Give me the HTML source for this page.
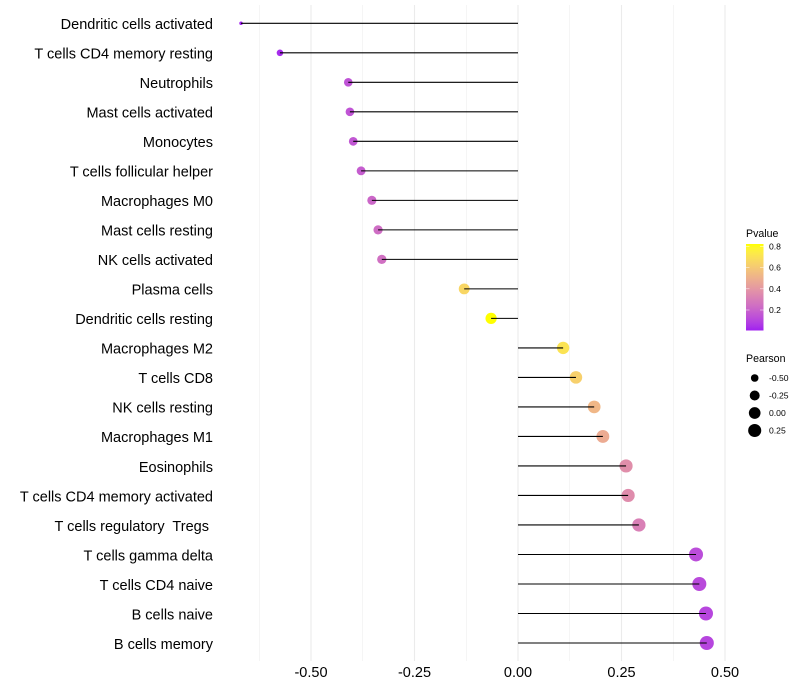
<!DOCTYPE html>
<html>
<head>
<meta charset="utf-8">
<title>Immune cell correlation lollipop chart</title>
<style>
html,body{margin:0;padding:0;background:#fff;width:800px;height:700px;overflow:hidden}
svg{display:block;font-family:"Liberation Sans",sans-serif}
text{white-space:pre}
</style>
</head>
<body>
<svg id="chart" width="800" height="700" viewBox="0 0 800 700" xmlns="http://www.w3.org/2000/svg">
  <defs>
    <linearGradient id="pvalue-gradient" x1="0" y1="1" x2="0" y2="0"></linearGradient>
  </defs>
  <g id="grid"></g>
  <g id="segments"></g>
  <g id="ylabels"></g>
  <g id="xlabels"></g>
  <g id="pvalue-legend">
    <text x="746" y="237" font-size="10.6" fill="#000">Pvalue</text>
    <rect x="746" y="244" width="17.5" height="86.5" fill="url(#pvalue-gradient)"></rect>
  </g>
  <g id="pearson-legend">
    <text x="746" y="362" font-size="10.6" fill="#000">Pearson</text>
  </g>
</svg>
<script>
var categories = ["Dendritic cells activated","T cells CD4 memory resting","Neutrophils","Mast cells activated","Monocytes","T cells follicular helper","Macrophages M0","Mast cells resting","NK cells activated","Plasma cells","Dendritic cells resting","Macrophages M2","T cells CD8","NK cells resting","Macrophages M1","Eosinophils","T cells CD4 memory activated","T cells regulatory  Tregs ","T cells gamma delta","T cells CD4 naive","B cells naive","B cells memory"];
var pearson = [-0.669,-0.575,-0.41,-0.406,-0.398,-0.379,-0.353,-0.338,-0.329,-0.13,-0.065,0.109,0.14,0.184,0.205,0.261,0.266,0.292,0.43,0.438,0.454,0.456];
var pvalues = [0.009,0.031,0.145,0.15,0.159,0.181,0.216,0.237,0.251,0.658,0.825,0.71,0.633,0.529,0.482,0.367,0.358,0.311,0.125,0.117,0.103,0.101];
var xTicks = [-0.5,-0.25,0,0.25,0.5];
var xMinorTicks = [-0.625,-0.375,-0.125,0.125,0.375];
var pvalueTicks = [0.2,0.4,0.6,0.8];
var pearsonTicks = [-0.5,-0.25,0,0.25];

var SVGNS = "http://www.w3.org/2000/svg";
function mk(tag, attrs, parent, txt){
  var el = document.createElementNS(SVGNS, tag);
  for (var k in attrs) el.setAttribute(k, attrs[k]);
  if (txt !== undefined) el.textContent = txt;
  parent.appendChild(el);
  return el;
}
function xScale(v){ return 518 + v * 414; }
function yScale(i){ return 23.3 + i * 29.51; }
var pMin = 0.007, pMax = 0.825;
function pScale(p){ return 310 - (p - 0.2) * 106; }
var rMin = Math.min.apply(null, pearson), rMax = Math.max.apply(null, pearson);
function diameter(r){ return 3.5 + 10.6 * Math.sqrt((r - rMin) / (rMax - rMin)); }

function srgb2lin(c){ c/=255; return c<=0.04045 ? c/12.92 : Math.pow((c+0.055)/1.055,2.4); }
function lin2srgb(c){ c = c<=0.0031308 ? 12.92*c : 1.055*Math.pow(c,1/2.4)-0.055; return Math.round(Math.max(0,Math.min(1,c))*255); }
function rgb2lab(c){
  var R=srgb2lin(c[0]),G=srgb2lin(c[1]),B=srgb2lin(c[2]);
  var X=(0.4124564*R+0.3575761*G+0.1804375*B)/0.95047,Y=0.2126729*R+0.7151522*G+0.072175*B,Z=(0.0193339*R+0.119192*G+0.9503041*B)/1.08883;
  function f(t){ return t>0.008856 ? Math.cbrt(t) : 7.787*t+16/116; }
  return [116*f(Y)-16,500*(f(X)-f(Y)),200*(f(Y)-f(Z))];
}
function lab2hex(l){
  var fy=(l[0]+16)/116,fx=fy+l[1]/500,fz=fy-l[2]/200;
  function g(t){ return t*t*t>0.008856 ? t*t*t : (t-16/116)/7.787; }
  var X=g(fx)*0.95047,Y=g(fy),Z=g(fz)*1.08883;
  var R=3.2404542*X-1.5371385*Y-0.4985314*Z,G=-0.969266*X+1.8760108*Y+0.041556*Z,B=0.0556434*X-0.2040259*Y+1.0572252*Z;
  return "rgb("+lin2srgb(R)+","+lin2srgb(G)+","+lin2srgb(B)+")";
}
var labLow = rgb2lab([160,32,240]), labHigh = rgb2lab([255,255,0]);
function colorAt(t){
  t = Math.max(0, Math.min(1, t));
  return lab2hex([0,1,2].map(function(i){ return labLow[i] + (labHigh[i]-labLow[i])*t; }));
}
function pColor(p){ return colorAt((p - pMin) / (pMax - pMin)); }

var grid = document.getElementById("grid");
xMinorTicks.forEach(function(v){
  var el = mk("line", {x1:xScale(v), x2:xScale(v), y1:5, y2:661, stroke:"#ebebeb", "stroke-width":0.53}, grid);
  
  
});
xTicks.forEach(function(v){
  var el = mk("line", {x1:xScale(v), x2:xScale(v), y1:5, y2:661, stroke:"#ebebeb", "stroke-width":1.07}, grid);
  
  
});

var xlabels = document.getElementById("xlabels");
xTicks.forEach(function(v){
  var el = mk("text", {x:xScale(v), y:677, "text-anchor":"middle", "font-size":14.5, fill:"#000"}, xlabels, v.toFixed(2));
  
  
});

var ylabels = document.getElementById("ylabels");
var series = document.getElementById("segments");
categories.forEach(function(name, i){
  var lab = mk("text", {x:213, y:yScale(i)+5.8, "text-anchor":"end", "font-size":14.5, fill:"#000", "xml:space":"preserve"}, ylabels, name);
  
  

  var pt = mk("circle", {cx:xScale(pearson[i]), cy:yScale(i), r:diameter(pearson[i])/2, fill:pColor(pvalues[i])}, series);
  
  

  var ln = mk("line", {x1:xScale(0), x2:xScale(pearson[i]), y1:yScale(i), y2:yScale(i), stroke:"#000", "stroke-width":1.07}, series);
  
  
});

var gradient = document.getElementById("pvalue-gradient");
for (var s = 0; s <= 20; s++){
  mk("stop", {offset:(s*5)+"%", "stop-color":colorAt(s/20)}, gradient);
}
var pLegend = document.getElementById("pvalue-legend");
pvalueTicks.forEach(function(p){
  var y = pScale(p);
  var t1 = mk("line", {x1:746, x2:749.5, y1:y, y2:y, stroke:"#fff", "stroke-width":0.6, "stroke-opacity":0.8}, pLegend);
  
  
  var t2 = mk("line", {x1:760, x2:763.5, y1:y, y2:y, stroke:"#fff", "stroke-width":0.6, "stroke-opacity":0.8}, pLegend);
  
  
  var tx = mk("text", {x:769, y:y+3, "font-size":8.6, fill:"#000"}, pLegend, p.toFixed(1));
  
  
});

var sLegend = document.getElementById("pearson-legend");
pearsonTicks.forEach(function(r, i){
  var y = 378 + i * 17.5;
  var c = mk("circle", {cx:754.7, cy:y, r:diameter(r)/2, fill:"#000"}, sLegend);
  
  
  var tx = mk("text", {x:769, y:y+3, "font-size":8.6, fill:"#000"}, sLegend, r.toFixed(2));
  
  
});
</script>
</body>
</html>
